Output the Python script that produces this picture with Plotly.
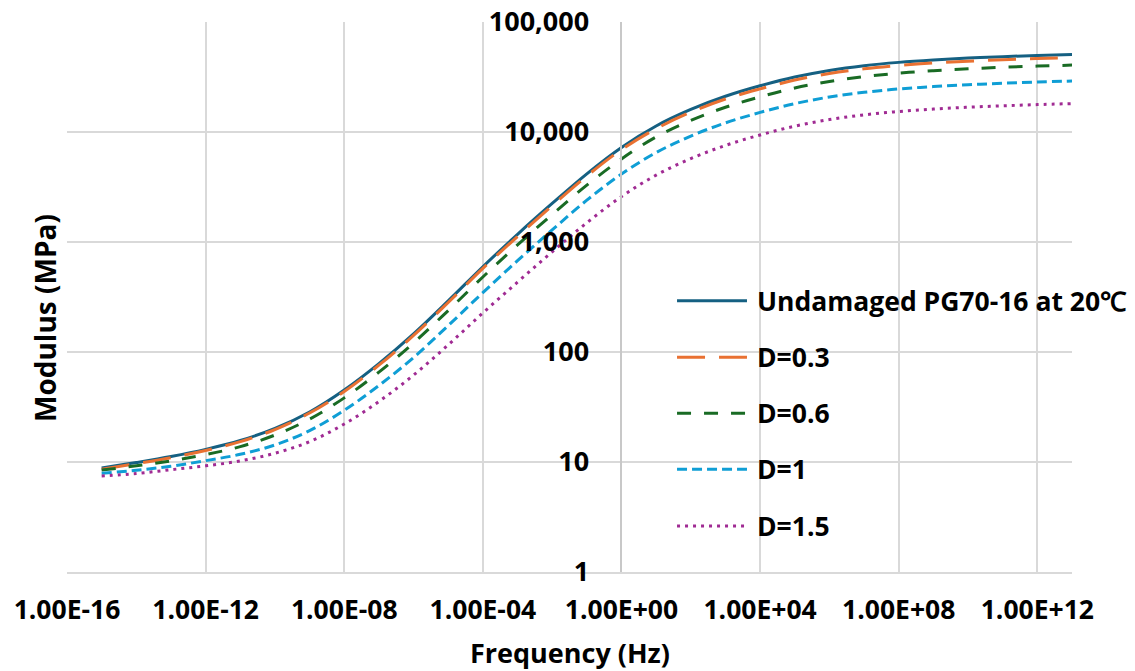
import plotly.graph_objects as go

# Frequency (Hz), one point per decade
freq = [1e-15, 1e-14, 1e-13, 1e-12, 1e-11, 1e-10, 1e-9, 1e-8, 1e-7, 1e-6,
        1e-5, 1e-4, 1e-3, 1e-2, 1e-1, 1e0, 1e1, 1e2, 1e3, 1e4,
        1e5, 1e6, 1e7, 1e8, 1e9, 1e10, 1e11, 1e12, 1e13]

# Modulus (MPa)
undamaged = [8.81, 9.89, 11.22, 13.03, 15.67, 20.18, 28.51, 45.19, 78.52, 146.2,
             291.7, 595.7, 1175, 2239, 4169, 7244, 11350, 16032, 21135, 26303,
             31623, 36308, 40087, 42954, 45186, 46989, 48417, 49659, 50699]
d_03 = [8.61, 9.66, 10.96, 12.74, 15.31, 19.72, 27.86, 43.65, 75.86, 141.3,
        281.8, 575.4, 1122, 2138, 3981, 6918, 10715, 15136, 19953, 24660,
        29648, 34041, 37584, 40272, 42364, 44055, 45394, 46559, 47534]
d_06 = [8.45, 9.23, 10.23, 11.67, 13.80, 17.58, 24.55, 38.28, 65.61, 120.8,
        238.2, 480.8, 939.7, 1778, 3289, 5689, 9016, 12735, 16788, 20893,
        25119, 28840, 31842, 34277, 36058, 37497, 38726, 39719, 40551]
d_10 = [7.89, 8.41, 9.16, 10.28, 11.75, 14.29, 19.28, 29.51, 49.55, 89.13,
        173.8, 346.7, 676.1, 1288, 2399, 4150, 6501, 9183, 12106, 15066,
        18113, 20797, 22961, 24604, 25882, 26915, 27733, 28445, 29040]
d_15 = [7.46, 7.85, 8.51, 9.23, 10.23, 12.02, 15.31, 22.13, 35.48, 61.66,
        116.1, 226.5, 431.5, 812.8, 1496, 2588, 4055, 5728, 7551, 9397,
        11298, 12972, 14322, 15346, 16144, 16788, 17298, 17742, 18113]

series_names = ["Undamaged PG70-16 at 20\u2103", "D=0.3", "D=0.6", "D=1", "D=1.5"]
series_values = [undamaged, d_03, d_06, d_10, d_15]
series_colors = ["#156082", "#E97132", "#196B24", "#0F9ED5", "#A02B93"]
series_dash = ["solid", "28px,14px", "14px,13px", "10px,5px", "3px,5px"]

x_tickvals = [1e-16, 1e-12, 1e-8, 1e-4, 1e0, 1e4, 1e8, 1e12]
x_ticktext = ["1.00E-16", "1.00E-12", "1.00E-08", "1.00E-04",
              "1.00E+00", "1.00E+04", "1.00E+08", "1.00E+12"]
y_tickvals = [1, 10, 100, 1000, 10000, 100000]
y_ticktext = ["1", "10", "100", "1,000", "10,000", "100,000"]

FONT = "Open Sans"
fig = go.Figure()
for name, vals, col, dash in zip(series_names, series_values, series_colors, series_dash):
    fig.add_trace(go.Scatter(x=freq, y=vals, mode="lines", name=name,
                             line=dict(color=col, width=3, dash=dash, shape="spline", smoothing=1.0),
                             showlegend=False))

# manual legend (long symbols like the original)
leg_y = [0.4933, 0.3904, 0.2885, 0.1867, 0.0836]
shapes = []
annotations = []
for name, col, dash, yy in zip(series_names, series_colors, series_dash, leg_y):
    shapes.append(dict(type="line", xref="paper", yref="paper", x0=0.607, x1=0.6766,
                       y0=yy, y1=yy, line=dict(color=col, width=3, dash=dash)))
    annotations.append(dict(xref="paper", yref="paper", x=0.6846, y=yy, text=name,
                            showarrow=False, xanchor="left", yanchor="middle",
                            font=dict(family=FONT, size=26.5, color="#000000", weight="bold")))

annotations.append(dict(xref="paper", yref="paper", x=0.5, y=-0.1455, text="Frequency (Hz)",
                        showarrow=False, xanchor="center", yanchor="middle",
                        font=dict(family=FONT, size=27, color="#000000", weight="bold")))
annotations.append(dict(xref="paper", yref="paper", x=-0.0219, y=0.4618, text="Modulus (MPa)",
                        showarrow=False, xanchor="center", yanchor="middle", textangle=-90,
                        font=dict(family=FONT, size=28, color="#000000", weight="bold")))

fig.update_layout(
    width=1135, height=671,
    margin=dict(l=67, r=63, t=22, b=99),
    paper_bgcolor="white", plot_bgcolor="white",
    shapes=shapes, annotations=annotations,
    xaxis=dict(type="log", range=[-16, 13], tickvals=x_tickvals, ticktext=x_ticktext,
               automargin=False,
               showgrid=True, gridcolor="#D9D9D9", gridwidth=1.5,
               showline=True, linecolor="#D9D9D9", linewidth=1.5,
               ticks="", ticklabelstandoff=13, zeroline=False,
               tickfont=dict(family=FONT, size=26.5, color="#000000", weight="bold")),
    yaxis=dict(type="log", range=[0, 5], tickvals=y_tickvals, ticktext=y_ticktext,
               anchor="free", position=16/29, automargin=False,
               showgrid=True, gridcolor="#D9D9D9", gridwidth=1.5,
               showline=True, linecolor="#C8C8C8", linewidth=2,
               ticks="", ticklabelstandoff=26, zeroline=False,
               tickfont=dict(family=FONT, size=27, color="#000000", weight="bold")),
)

fig.write_html("out.html")
